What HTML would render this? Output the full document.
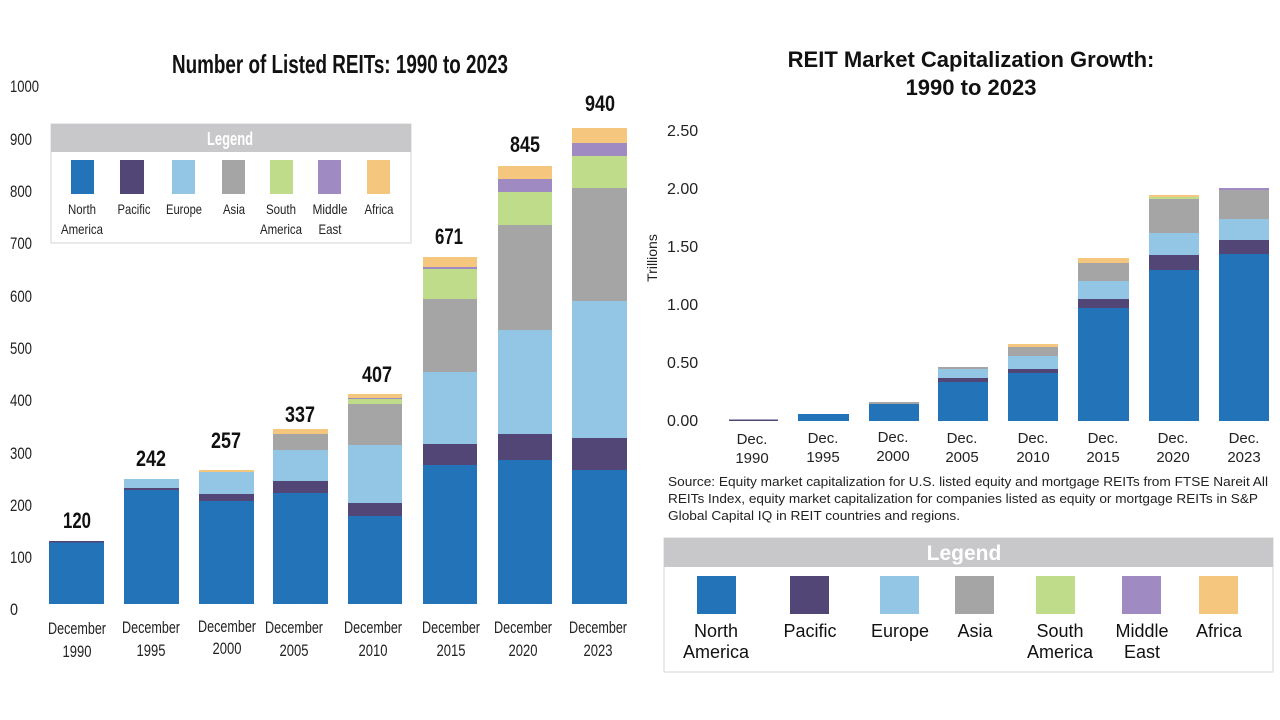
<!DOCTYPE html>
<html><head><meta charset="utf-8"><style>
html,body{margin:0;padding:0;background:#fff;}
svg{display:block;}
text{font-family:"Liberation Sans",Arial,sans-serif;}
.n{font-family:"Liberation Sans Narrow","Liberation Sans",sans-serif;}
</style></head><body>
<svg width="1280" height="720" viewBox="0 0 1280 720" xmlns="http://www.w3.org/2000/svg">
<defs>
<style>
.na{fill:#2373b8}.pa{fill:#524676}.eu{fill:#93c5e4}.as{fill:#a5a5a5}.sa{fill:#bfdc8a}.me{fill:#a08ac2}.af{fill:#f5c77e}
</style>
</defs>
<!-- LEFT CHART -->
<text class="n" x="172" y="73" font-size="26" font-weight="bold" textLength="336" lengthAdjust="spacingAndGlyphs" fill="#111">Number of Listed REITs: 1990 to 2023</text>
<g class="n" font-size="17" fill="#222">
<text x="10" y="92" textLength="29" lengthAdjust="spacingAndGlyphs">1000</text><text x="10" y="145" textLength="22" lengthAdjust="spacingAndGlyphs">900</text><text x="10" y="197" textLength="22" lengthAdjust="spacingAndGlyphs">800</text><text x="10" y="249" textLength="22" lengthAdjust="spacingAndGlyphs">700</text><text x="10" y="302" textLength="22" lengthAdjust="spacingAndGlyphs">600</text><text x="10" y="354" textLength="22" lengthAdjust="spacingAndGlyphs">500</text><text x="10" y="406" textLength="22" lengthAdjust="spacingAndGlyphs">400</text><text x="10" y="459" textLength="22" lengthAdjust="spacingAndGlyphs">300</text><text x="10" y="511" textLength="22" lengthAdjust="spacingAndGlyphs">200</text><text x="10" y="563" textLength="22" lengthAdjust="spacingAndGlyphs">100</text><text x="10" y="615" textLength="8" lengthAdjust="spacingAndGlyphs">0</text>
</g>
<g>
<rect class="na" x="49" y="541" width="55" height="63"/><rect class="pa" x="49" y="541" width="55" height="1.5"/>
<rect class="na" x="124" y="490" width="55" height="114"/><rect class="pa" x="124" y="488" width="55" height="2"/><rect class="eu" x="124" y="479" width="55" height="9"/>
<rect class="na" x="199" y="501" width="55" height="103"/><rect class="pa" x="199" y="494" width="55" height="7"/><rect class="eu" x="199" y="472" width="55" height="22"/><rect class="af" x="199" y="470" width="55" height="2"/>
<rect class="na" x="273" y="493" width="55" height="111"/><rect class="pa" x="273" y="481" width="55" height="12"/><rect class="eu" x="273" y="450" width="55" height="31"/><rect class="as" x="273" y="434" width="55" height="16"/><rect class="af" x="273" y="429" width="55" height="5"/>
<rect class="na" x="348" y="516" width="54" height="88"/><rect class="pa" x="348" y="503" width="54" height="13"/><rect class="eu" x="348" y="445" width="54" height="58"/><rect class="as" x="348" y="404" width="54" height="41"/><rect class="sa" x="348" y="399" width="54" height="5"/><rect class="me" x="348" y="398" width="54" height="1"/><rect class="af" x="348" y="394" width="54" height="4"/>
<rect class="na" x="423" y="465" width="54" height="139"/><rect class="pa" x="423" y="444" width="54" height="21"/><rect class="eu" x="423" y="372" width="54" height="72"/><rect class="as" x="423" y="299" width="54" height="73"/><rect class="sa" x="423" y="269" width="54" height="30"/><rect class="me" x="423" y="267" width="54" height="2"/><rect class="af" x="423" y="257" width="54" height="10"/>
<rect class="na" x="498" y="460" width="54" height="144"/><rect class="pa" x="498" y="434" width="54" height="26"/><rect class="eu" x="498" y="330" width="54" height="104"/><rect class="as" x="498" y="225" width="54" height="105"/><rect class="sa" x="498" y="192" width="54" height="33"/><rect class="me" x="498" y="179" width="54" height="13"/><rect class="af" x="498" y="166" width="54" height="13"/>
<rect class="na" x="572" y="470" width="55" height="134"/><rect class="pa" x="572" y="438" width="55" height="32"/><rect class="eu" x="572" y="301" width="55" height="137"/><rect class="as" x="572" y="188" width="55" height="113"/><rect class="sa" x="572" y="156" width="55" height="32"/><rect class="me" x="572" y="143" width="55" height="13"/><rect class="af" x="572" y="128" width="55" height="15"/>
</g>
<g class="n" font-size="22" font-weight="bold" fill="#111" text-anchor="middle">
<text x="77" y="528" textLength="28" lengthAdjust="spacingAndGlyphs">120</text><text x="151" y="466" textLength="30" lengthAdjust="spacingAndGlyphs">242</text><text x="226" y="448" textLength="30" lengthAdjust="spacingAndGlyphs">257</text><text x="300" y="422" textLength="30" lengthAdjust="spacingAndGlyphs">337</text><text x="377" y="382" textLength="30" lengthAdjust="spacingAndGlyphs">407</text><text x="449" y="244" textLength="28" lengthAdjust="spacingAndGlyphs">671</text><text x="525" y="152" textLength="30" lengthAdjust="spacingAndGlyphs">845</text><text x="600" y="111" textLength="30" lengthAdjust="spacingAndGlyphs">940</text>
</g>
<g class="n" font-size="17" fill="#222" text-anchor="middle">
<text x="77" y="634" textLength="58" lengthAdjust="spacingAndGlyphs">December</text><text x="77" y="657" textLength="29" lengthAdjust="spacingAndGlyphs">1990</text>
<text x="151" y="633" textLength="58" lengthAdjust="spacingAndGlyphs">December</text><text x="151" y="656" textLength="29" lengthAdjust="spacingAndGlyphs">1995</text>
<text x="227" y="632" textLength="58" lengthAdjust="spacingAndGlyphs">December</text><text x="227" y="654" textLength="29" lengthAdjust="spacingAndGlyphs">2000</text>
<text x="294" y="633" textLength="58" lengthAdjust="spacingAndGlyphs">December</text><text x="294" y="656" textLength="29" lengthAdjust="spacingAndGlyphs">2005</text>
<text x="373" y="633" textLength="58" lengthAdjust="spacingAndGlyphs">December</text><text x="373" y="656" textLength="29" lengthAdjust="spacingAndGlyphs">2010</text>
<text x="451" y="633" textLength="58" lengthAdjust="spacingAndGlyphs">December</text><text x="451" y="656" textLength="29" lengthAdjust="spacingAndGlyphs">2015</text>
<text x="523" y="633" textLength="58" lengthAdjust="spacingAndGlyphs">December</text><text x="523" y="656" textLength="29" lengthAdjust="spacingAndGlyphs">2020</text>
<text x="598" y="633" textLength="58" lengthAdjust="spacingAndGlyphs">December</text><text x="598" y="656" textLength="29" lengthAdjust="spacingAndGlyphs">2023</text>
</g>
<rect x="51" y="124" width="360" height="119" fill="#fff" stroke="#d6d6d6" stroke-width="1"/>
<rect x="51" y="124" width="360" height="28" fill="#c8c8ca"/>
<text class="n" x="230" y="145" font-size="18" font-weight="bold" fill="#fff" text-anchor="middle" textLength="46" lengthAdjust="spacingAndGlyphs">Legend</text>
<rect class="na" x="71" y="160" width="23" height="34"/><rect class="pa" x="120" y="160" width="24" height="34"/><rect class="eu" x="172" y="160" width="23" height="34"/><rect class="as" x="222" y="160" width="23" height="34"/><rect class="sa" x="270" y="160" width="23" height="34"/><rect class="me" x="318" y="160" width="23" height="34"/><rect class="af" x="367" y="160" width="23" height="34"/>
<g class="n" font-size="14" fill="#222" text-anchor="middle">
<text x="82" y="214" textLength="28" lengthAdjust="spacingAndGlyphs">North</text><text x="82" y="234" textLength="42" lengthAdjust="spacingAndGlyphs">America</text>
<text x="134" y="214" textLength="33" lengthAdjust="spacingAndGlyphs">Pacific</text><text x="184" y="214" textLength="36" lengthAdjust="spacingAndGlyphs">Europe</text><text x="234" y="214" textLength="22" lengthAdjust="spacingAndGlyphs">Asia</text>
<text x="281" y="214" textLength="30" lengthAdjust="spacingAndGlyphs">South</text><text x="281" y="234" textLength="42" lengthAdjust="spacingAndGlyphs">America</text>
<text x="330" y="214" textLength="35" lengthAdjust="spacingAndGlyphs">Middle</text><text x="330" y="234" textLength="23" lengthAdjust="spacingAndGlyphs">East</text>
<text x="379" y="214" textLength="29" lengthAdjust="spacingAndGlyphs">Africa</text>
</g>
<!-- RIGHT CHART -->
<g font-size="22" font-weight="bold" fill="#111" text-anchor="middle">
<text x="971" y="67">REIT Market Capitalization Growth:</text>
<text x="971" y="95">1990 to 2023</text>
</g>
<g font-size="16" fill="#222">
<text x="667" y="136">2.50</text><text x="667" y="194">2.00</text><text x="667" y="252">1.50</text><text x="667" y="310">1.00</text><text x="667" y="368">0.50</text><text x="667" y="426">0.00</text>
</g>
<text x="0" y="0" font-size="14" fill="#222" transform="translate(657,258) rotate(-90)" text-anchor="middle">Trillions</text>
<g>
<rect class="pa" x="729" y="419.5" width="49" height="1.5"/>
<rect class="na" x="798" y="414" width="51" height="7"/>
<rect class="na" x="869" y="404" width="50" height="17"/><rect class="as" x="869" y="402" width="50" height="2"/>
<rect class="na" x="938" y="382" width="50" height="39"/><rect class="pa" x="938" y="378" width="50" height="4"/><rect class="eu" x="938" y="369" width="50" height="9"/><rect class="as" x="938" y="367" width="50" height="2"/>
<rect class="na" x="1008" y="373" width="50" height="48"/><rect class="pa" x="1008" y="369" width="50" height="4"/><rect class="eu" x="1008" y="356" width="50" height="13"/><rect class="as" x="1008" y="347" width="50" height="9"/><rect class="af" x="1008" y="344" width="50" height="3"/>
<rect class="na" x="1078" y="308" width="51" height="113"/><rect class="pa" x="1078" y="299" width="51" height="9"/><rect class="eu" x="1078" y="281" width="51" height="18"/><rect class="as" x="1078" y="263" width="51" height="18"/><rect class="af" x="1078" y="258" width="51" height="5"/>
<rect class="na" x="1149" y="270" width="50" height="151"/><rect class="pa" x="1149" y="255" width="50" height="15"/><rect class="eu" x="1149" y="233" width="50" height="22"/><rect class="as" x="1149" y="199" width="50" height="34"/><rect class="sa" x="1149" y="197" width="50" height="2"/><rect class="af" x="1149" y="195" width="50" height="2"/>
<rect class="na" x="1219" y="254" width="50" height="167"/><rect class="pa" x="1219" y="240" width="50" height="14"/><rect class="eu" x="1219" y="219" width="50" height="21"/><rect class="as" x="1219" y="190" width="50" height="29"/><rect class="me" x="1219" y="188" width="50" height="2"/>
</g>
<g font-size="15" fill="#222" text-anchor="middle">
<text x="752" y="444">Dec.</text><text x="752" y="463">1990</text>
<text x="823" y="443">Dec.</text><text x="823" y="462">1995</text>
<text x="893" y="442">Dec.</text><text x="893" y="461">2000</text>
<text x="962" y="443">Dec.</text><text x="962" y="462">2005</text>
<text x="1033" y="443">Dec.</text><text x="1033" y="462">2010</text>
<text x="1103" y="443">Dec.</text><text x="1103" y="462">2015</text>
<text x="1173" y="443">Dec.</text><text x="1173" y="462">2020</text>
<text x="1244" y="443">Dec.</text><text x="1244" y="462">2023</text>
</g>
<g font-size="12.5" fill="#222">
<text x="668" y="486" textLength="600" lengthAdjust="spacingAndGlyphs">Source: Equity market capitalization for U.S. listed equity and mortgage REITs from FTSE Nareit All</text>
<text x="668" y="503" textLength="590" lengthAdjust="spacingAndGlyphs">REITs Index, equity market capitalization for companies listed as equity or mortgage REITs in S&amp;P</text>
<text x="668" y="520" textLength="292" lengthAdjust="spacingAndGlyphs">Global Capital IQ in REIT countries and regions.</text>
</g>
<rect x="664" y="538" width="609" height="134" fill="#fff" stroke="#d6d6d6" stroke-width="1"/>
<rect x="664" y="538" width="609" height="29" fill="#c8c8ca"/>
<text x="964" y="560" font-size="21" font-weight="bold" fill="#fff" text-anchor="middle">Legend</text>
<rect class="na" x="697" y="576" width="39" height="38"/><rect class="pa" x="790" y="576" width="39" height="38"/><rect class="eu" x="880" y="576" width="39" height="38"/><rect class="as" x="955" y="576" width="39" height="38"/><rect class="sa" x="1036" y="576" width="39" height="38"/><rect class="me" x="1122" y="576" width="39" height="38"/><rect class="af" x="1199" y="576" width="39" height="38"/>
<g font-size="18" fill="#111" text-anchor="middle">
<text x="716" y="637">North</text><text x="716" y="658">America</text>
<text x="810" y="637">Pacific</text><text x="900" y="637">Europe</text><text x="975" y="637">Asia</text>
<text x="1060" y="637">South</text><text x="1060" y="658">America</text>
<text x="1142" y="637">Middle</text><text x="1142" y="658">East</text>
<text x="1219" y="637">Africa</text>
</g>
</svg>
</body></html>
